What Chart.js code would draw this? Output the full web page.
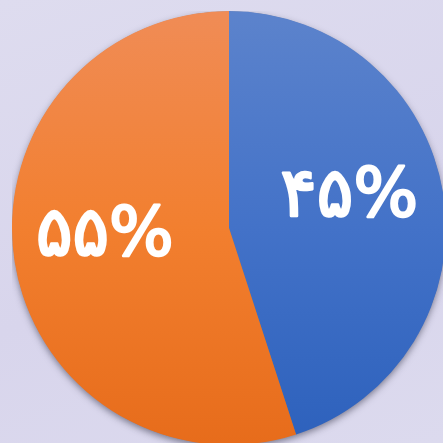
<!DOCTYPE html>
<html>
<head>
<meta charset="utf-8">
<script src="https://cdn.jsdelivr.net/npm/chart.js@4/dist/chart.umd.min.js"></script>
<style>
  html, body { margin: 0; padding: 0; width: 443px; height: 443px; overflow: hidden; }
  body { background: linear-gradient(160deg, #dedcef 0%, #d8d5ec 55%, #dcdaee 100%); position: relative; }
  #wrap { position: absolute; left: 12px; top: 11px; width: 434px; height: 434px; }
</style>
</head>
<body>
<div id="wrap"><canvas id="c" width="434" height="434"></canvas></div>
<script>
// Share of respondents, two groups
const categories = ['گروه اول', 'گروه دوم'];
const values = [45, 55];
const valueLabels = ['۴۵%', '۵۵%'];

// Vertical gradient stops per slice (top, middle, bottom)
const sliceShades = [
  ['#5c83cc', '#4372c8', '#2d61bc'],
  ['#f08c56', '#f27f2f', '#e76c1b']
];

function sliceFill(ctx) {
  const chart = ctx.chart;
  const area = chart.chartArea;
  if (!area) return sliceShades[ctx.dataIndex][1];
  const g = chart.ctx.createLinearGradient(0, area.top, 0, area.bottom);
  const s = sliceShades[ctx.dataIndex];
  g.addColorStop(0, s[0]);
  g.addColorStop(0.5, s[1]);
  g.addColorStop(1, s[2]);
  return g;
}

// Soft shadow under the whole pie
const pieShadow = {
  id: 'pieShadow',
  beforeDatasetsDraw(chart) {
    const arc = chart.getDatasetMeta(0).data[0];
    if (!arc) return;
    const c = chart.ctx;
    c.save();
    c.shadowColor = 'rgba(40, 40, 60, 0.55)';
    c.shadowBlur = 7;
    c.shadowOffsetX = 0;
    c.shadowOffsetY = 3;
    c.fillStyle = '#777';
    c.beginPath();
    c.arc(arc.x, arc.y, arc.outerRadius - 0.5, 0, Math.PI * 2);
    c.fill();
    c.restore();
  }
};

// Value labels placed inside each slice
const sliceLabels = {
  id: 'sliceLabels',
  afterDatasetsDraw(chart) {
    const c = chart.ctx;
    const meta = chart.getDatasetMeta(0);
    c.save();
    c.fillStyle = '#ffffff';
    c.strokeStyle = '#ffffff';
    c.lineWidth = 2.5;
    c.lineJoin = 'round';
    c.font = '68px "DejaVu Sans"';
    c.letterSpacing = '10px';
    c.textAlign = 'center';
    c.textBaseline = 'middle';
    c.direction = 'ltr';
    meta.data.forEach((arc, i) => {
      const mid = (arc.startAngle + arc.endAngle) / 2;
      const r = arc.outerRadius * 0.57;
      const x = arc.x + Math.cos(mid) * r - 2;
      const y = arc.y + Math.sin(mid) * r - 10;
      c.strokeText(valueLabels[i], x, y);
      c.fillText(valueLabels[i], x, y);
    });
    c.restore();
  }
};

new Chart(document.getElementById('c'), {
  type: 'pie',
  data: {
    labels: categories,
    datasets: [{
      data: values,
      backgroundColor: sliceFill,
      borderWidth: 0
    }]
  },
  options: {
    responsive: false,
    animation: false,
    layout: { padding: 0 },
    plugins: {
      legend: { display: false },
      tooltip: { enabled: false }
    }
  },
  plugins: [pieShadow, sliceLabels]
});
</script>
</body>
</html>
